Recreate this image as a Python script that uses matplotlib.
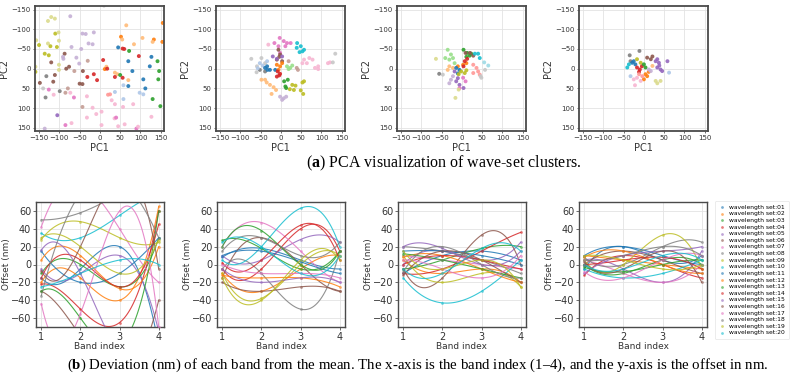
import numpy as np
import matplotlib
matplotlib.use("Agg")
import matplotlib.pyplot as plt

plt.rcParams["mathtext.fontset"] = "custom"
plt.rcParams["mathtext.rm"] = "Liberation Serif"
plt.rcParams["mathtext.bf"] = "Liberation Serif:bold"

# ---------------- PCA scatter data (x, y, tab20 colour index) ----------------
pca1_x = [-120, -111, -128, -73, -110, -102, -157, -150, -128, -122, -106, -101, -136, -126, -101, -159, -101, -159,
          65, 52, 55, 105, 133, 130, 154, 84, 16, 12, 37, 43, 70, 155,
          45, 70, 80, 127, 123, 107, 112, 70, 58,
          72, 142, 146, 144, 130, 149, 50,
          56, 60, 96, 8, 18, -15, -31, -7, 37, 56,
          -120, -111, -115, -148, -83, -76, -99, -134, -50, -43, -42, -87,
          -132, -140,
          -91, -90, -58, -51, -43, -35, -15, -28, -18, -70, -46,
          -63, -30,
          -126, -114, -79, -73, -85, -64, -32, -43, -18, -32, -9, 4, 25, 29, 36, 40, 45, 61, 37, 57, 90, 94, 127, 82, -85, -70, -136,
          -105, 37, 58, 98, 107, 20, 4, 10]
pca1_y = [-131, -127, -121, -133, -89, -92, -72, -60, -64, -57, -55, -71, -38, -34, -10, 8, 3, -5,
          -110, -81, -74, -78, -74, -68, -68, -62, -5, 1, 10, 14, 29, -116,
          -54, -19, 6, -30, -6, 27, 50, 44, 42,
          -45, -19, 6, 27, 77, 95, 16,
          -51, -50, -32, -22, 0, 14, 21, 29, 21, 23,
          -16, 16, 33, 36, 0, -5, 57, 73, 38, 39, 6, -38,
          19, 50,
          -30, -25, -28, -13, -89, -88, -92, -64, -62, -55, -50,
          6, -20,
          53, 66, 50, 61, 61, 73, 70, 97, 99, 124, 115, 109, 65, 80, 126, 124, 146, 141, 90, 97, 152, 147, 122, 90, 143, 138, 152,
          118, 59, 77, 61, 65, 66, 143, -160]
pca1_c = [17, 17, 17, 9, 16, 17, 17, 16, 17, 16, 16, 17, 16, 16, 17, 16, 17, 17,
          3, 2, 3, 3, 2, 3, 2, 3, 3, 2, 3, 3, 3, 2,
          0, 0, 0, 0, 0, 0, 0, 0, 1,
          4, 4, 4, 4, 4, 4, 4,
          6, 6, 6, 6, 6, 6, 6, 6, 6, 6,
          10, 10, 10, 10, 10, 10, 14, 14, 10, 10, 10, 10,
          14, 15,
          9, 9, 9, 9, 9, 9, 9, 9, 9, 9, 9,
          11, 11,
          12, 13, 11, 13, 11, 12, 13, 11, 13, 13, 13, 13, 7, 13, 13, 12, 13, 13, 13, 13, 12, 13, 13, 13, 12, 13, 9,
          8, 1, 1, 1, 1, 7, 13, 15]

pca2_x = [39, 49, 57, 46, 53, 40,
          57, 70, 64, 78, 53, 84, 92, 116, 134, 121, 92,
          -3, 7, -6, 15, -16, 11, -31, -2, 24,
          -6, -2, -4, -10, 3,
          -73, -48, -59, -52, -60, -39, -39,
          -52, -34, -45, -57,
          -39, -33, -27, -34, -14,
          -10, -2, -6, 3,
          -8, -2, -10, -4,
          -10, -20, 3,
          15, 19, 23, 28,
          8, 11, 17, 13,
          28, 36, 32, 53, 57, 49, 55, 22,
          -39, -27, -18, -35, -12, -48, -23,
          -2, 7, 13, 3,
          19, 39, 42, 128]
pca2_y = [-53, -57, -48, -42, -44, -65,
          -23, -27, -14, -23, -14, -2, -6, -14, -38, -16, 1,
          -78, -70, -57, -65, -65, -57, -61, -40, -65,
          -48, -36, -30, -23, -19,
          -25, -27, -6, 3, 9, -14, 7,
          -14, -19, -8, -1,
          -2, 3, 3, -6, 3,
          -10, -6, 3, -14,
          7, 13, 20, 17,
          -25, -31, -31,
          -6, 1, -2, -8,
          32, 45, 28, 49,
          41, 43, 54, 35, 32, 55, 64, 52,
          28, 41, 47, 35, 54, 28, 64,
          71, 75, 71, 79,
          -19, -2, 3, -16]
pca2_c = [18, 18, 18, 18, 18, 18,
          13, 13, 13, 13, 13, 13, 13, 13, 15, 13, 13,
          12, 12, 12, 12, 12, 12, 13, 12, 12,
          10, 10, 10, 10, 10,
          15, 15, 15, 14, 15, 15, 14,
          1, 1, 1, 1,
          0, 0, 0, 0, 0,
          2, 2, 2, 2,
          6, 6, 6, 6,
          8, 8, 8,
          5, 5, 5, 5,
          4, 4, 4, 4,
          16, 16, 16, 16, 16, 16, 16, 16,
          3, 3, 3, 3, 3, 3, 3,
          9, 9, 9, 9,
          11, 11, 11, 15]

pca3_x = [4, 13, 23, 19, 11,
          9, 20, 28,
          32, 40, 44, 55, 65,
          -35, -27, -22, -31, -41, -64, -18,
          11, 3, -10,
          7, 13, 4,
          28, 36, 40, 28, 44,
          -31, -22, -35,
          -14, -6, -18, -10,
          -2, 7, 11, -8,
          -56, -47, 46,
          -22, -31, -27,
          -14, -6, 4, -10,
          3, 9, -6,
          -8, -16,
          48, 57]
pca3_y = [-48, -40, -38, -33, -30,
          -40, -40, -33,
          -38, -38, -27, -16, -8,
          -48, -36, -27, -23, -27, -25, -14,
          -14, -10, -6,
          -19, -25, -6,
          -10, -2, 7, 11, 15,
          -6, -2, 3,
          -2, 3, 7, 12,
          7, 11, 4, 14,
          13, 15, 19,
          19, 37, 28,
          32, 41, 49, 24,
          23, 32, 49,
          53, 74,
          23, 3]
pca3_c = [4, 4, 4, 4, 4,
          10, 10, 10,
          18, 18, 18, 19, 19,
          5, 5, 5, 5, 5, 17, 5,
          2, 2, 2,
          6, 6, 6,
          7, 7, 7, 7, 7,
          3, 3, 3,
          0, 0, 8, 0,
          16, 16, 16, 16,
          14, 15, 15,
          9, 9, 9,
          8, 8, 8, 8,
          12, 12, 12,
          17, 17,
          15, 15]

pca4_x = [-11, -35, -33,
          33, 37, 29, 58, 33, 41, 45, 38,
          -29, -21, -25,
          -41, -37,
          8, 17, 21,
          -17, -8,
          -17, -10, -12, -5,
          0, 4,
          4, 0, 8, 12,
          -17, -25, -8, -22,
          -12, -4,
          29, 33, 41,
          17, 12,
          62, -33,
          21]
pca4_y = [-45, -34, -19,
          -24, -15, -19, -19, -3, 2, 6, -8,
          -15, -11, -19,
          -3, -11,
          -28, -24, -31,
          -24, -15,
          -3, 2, 8, -6,
          -11, -3,
          14, 27, 19, 8,
          23, 27, 31, 42,
          14, 19,
          31, 37, 31,
          6, 2,
          10, 19,
          -7]
pca4_c = [14, 14, 14,
          8, 8, 8, 8, 8, 8, 8, 8,
          0, 0, 0,
          18, 18,
          10, 10, 10,
          16, 16,
          6, 6, 6, 6,
          4, 4,
          2, 2, 2, 2,
          13, 13, 13, 13,
          7, 7,
          17, 17, 17,
          9, 9,
          1, 1,
          3]

# ---------------- band offset data (20 wavelength sets x 4 bands) ----------------
bands = [1, 2, 3, 4]
set_labels = [f"wavelength set:{i:02d}" for i in range(1, 21)]

offsets1 = [[-15, -5, 20, -90], [-20, -15, -40, 65], [-10, 0, -25, 30], [-22, -50, -65, 60],
            [-5, -10, 10, -75], [-30, -80, -120, -40], [42, 90, 40, -20], [50, 58, 80, 110],
            [28, 48, 30, 25], [35, 30, 55, 80], [15, -20, -10, 30], [5, 10, -27, 20],
            [-30, -60, -90, 60], [-15, 5, -25, 45], [16, -10, -100, -80], [-7, 20, 100, -5],
            [-44, -55, 60, -70], [-35, 80, 95, 30], [30, 20, -10, 28], [-25, -10, 5, 0]]
offsets2 = [[8, 18, 5, -5], [-10, -30, -5, 10], [27, 18, -5, 15], [-5, -5, 40, 15],
            [10, 5, 28, 25], [-15, 30, 0, -30], [20, 47, 15, -20], [-5, -10, -50, 15],
            [-10, -38, 0, 10], [5, 20, 63, 20], [10, 15, 3, -10], [-12, -15, -15, -25],
            [20, 38, 0, 15], [2, 5, 44, 5], [-5, -20, -15, -20], [-20, -30, -25, -30],
            [0, -10, -10, -15], [15, 30, 10, 25], [-15, -40, 5, 5], [25, 20, -10, 10]]
offsets3 = [[-10, 10, 15, 5], [5, -10, -5, -20], [-5, 5, 18, 20], [-10, -5, 15, 36],
            [0, 15, 5, 25], [-5, -15, 33, 0], [10, 5, 0, -5], [20, 15, 5, -10],
            [10, -20, -10, -25], [-15, -43, -30, 5], [15, 15, 10, 0], [8, 10, -5, -20],
            [12, 5, -5, -15], [0, 10, 5, -5], [20, 18, 0, 15], [-12, 15, 5, -20],
            [5, -5, -15, 10], [-8, 20, 0, -15], [15, -5, 5, -25], [-5, -10, 18, 15]]
offsets4 = [[-5, 20, 5, 10], [10, 5, 0, -5], [0, -10, 5, 0], [-12, 10, 0, -15],
            [5, -5, -20, 15], [0, 15, 5, -10], [5, -10, -20, 0], [8, 0, 20, 25],
            [5, 0, 33, -5], [-5, -15, -10, 5], [10, 20, 10, 0], [8, 15, 0, -10],
            [-3, -8, 0, 5], [0, 5, 8, -5], [-10, 10, 15, 20], [3, -5, 15, -20],
            [-8, -15, 5, 10], [5, 10, 20, 10], [10, 5, -5, 0], [0, -5, 10, 5]]

caption_a = "PCA visualization of wave-set clusters."
caption_b = ("Deviation (nm) of each band from the mean. The x-axis is the band index (1\u20134), "
             "and the y-axis is the offset in nm.")

# ---------------- drawing ----------------
W, H = 799, 379
fig = plt.figure(figsize=(W / 100, H / 100), dpi=100)
fig.patch.set_facecolor("white")

tab20 = plt.get_cmap("tab20").colors
tab10 = plt.get_cmap("tab10").colors
frame_col = "#4a4a4a"
grid_col = "#e3e3e3"


def px_axes(left, top, width, height):
    return fig.add_axes([left / W, 1 - (top + height) / H, width / W, height / H])


def style(ax, lw):
    for s in ax.spines.values():
        s.set_color(frame_col)
        s.set_linewidth(lw)
    ax.grid(True, color=grid_col, linewidth=0.6)
    ax.set_axisbelow(True)


top_lefts = [35, 216, 397, 579]
pca_sets = [(pca1_x, pca1_y, pca1_c), (pca2_x, pca2_y, pca2_c),
            (pca3_x, pca3_y, pca3_c), (pca4_x, pca4_y, pca4_c)]
for left, (xs, ys, cs) in zip(top_lefts, pca_sets):
    ax = px_axes(left, 6, 129, 125)
    style(ax, 1.3)
    ax.scatter(xs, ys, c=[tab20[c] for c in cs], s=8, alpha=0.9, linewidths=0)
    ax.set_xlim(-160, 158)
    ax.set_ylim(158, -159)
    ticks = [-150, -100, -50, 0, 50, 100, 150]
    ax.set_xticks(ticks)
    ax.set_yticks(ticks)
    ax.tick_params(labelsize=5, length=1.5, width=0.5, pad=1.5, colors="#333333")
    ax.set_xlabel("PC1", fontsize=7, labelpad=1, color="#333333")
    ax.set_ylabel("PC2", fontsize=7, labelpad=2, color="#333333")

fig.text(444 / W, 1 - 163 / H, r"($\mathbf{a}$) " + caption_a, ha="center", va="center",
         fontsize=11.5, family="Liberation Serif")

bot_lefts = [36, 217, 398, 579]
xs_fine = np.linspace(1, 4, 120)
handles = None
for left, data in zip(bot_lefts, [offsets1, offsets2, offsets3, offsets4]):
    ax = px_axes(left, 202, 128, 125)
    style(ax, 1.0)
    hs = []
    for i, vals in enumerate(data):
        col = tab10[i % 10]
        coef = np.polyfit(bands, vals, 3)
        ax.plot(xs_fine, np.polyval(coef, xs_fine), color=col, lw=0.8, alpha=0.85)
        h = ax.scatter(bands, vals, color=col, s=4, alpha=0.6, linewidths=0,
                       label=set_labels[i], zorder=3)
        hs.append(h)
    handles = hs
    ax.set_xlim(0.865, 4.135)
    ax.set_ylim(-70, 70)
    ax.set_xticks([1, 2, 3, 4])
    ax.set_yticks([-60, -40, -20, 0, 20, 40, 60])
    ax.tick_params(labelsize=7, length=2, width=0.5, pad=1.5, colors="#333333")
    ax.set_xlabel("Band index", fontsize=6.5, labelpad=0, color="#333333")
    ax.set_ylabel("Offset (nm)", fontsize=6.5, labelpad=0, color="#333333")

leg = fig.legend(handles, set_labels, loc="upper left", bbox_to_anchor=(712 / W, 1 - 198 / H),
                 fontsize=4.3, frameon=True, markerscale=1.0, handletextpad=0.6,
                 labelspacing=0.24, borderpad=0.6, handlelength=1.2)
leg.get_frame().set_edgecolor("#dddddd")
leg.get_frame().set_linewidth(0.5)

fig.text(418 / W, 1 - 365 / H, r"($\mathbf{b}$) " + caption_b, ha="center", va="center",
         fontsize=10.7, family="Liberation Serif")

fig.savefig("out.png", dpi=100, facecolor="white")
